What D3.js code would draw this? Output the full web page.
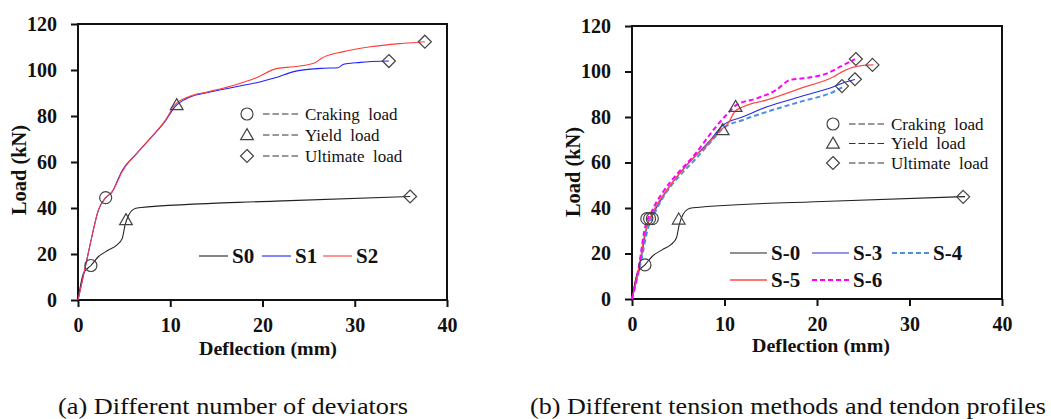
<!DOCTYPE html>
<html>
<head>
<meta charset="utf-8">
<script src="https://cdnjs.cloudflare.com/ajax/libs/d3/7.8.5/d3.min.js"></script>
<style>
  body { margin: 0; background: white; }
  svg { display: block; }
  text { font-family: "Liberation Serif", "Times New Roman", serif; fill: #111; }
</style>
</head>
<body>
<script>
/*************** Data (deflection mm, load kN) *********************/
const xTicks = [0, 10, 20, 30, 40]
const yTicks = [0, 20, 40, 60, 80, 100, 120]

// panel (a)
const s0 = [[0,0],[0.6,11.6],[1.4,15],[2.2,18.8],[3.3,21.7],[4.2,23.9],[4.8,26.8],[5.1,32.6],[5.5,37],[6.0,39.4],[6.6,40.1],[21.4,43],[36,45]]
const s1 = [[0,0],[0.8,14.5],[1.5,27.5],[2.2,39],[3,44.5],[3.7,47],[4.4,53],[4.75,56],[6.2,63],[8,71],[9.5,78],[10.5,84],[12,88],[14.2,90.3],[17,92.6],[19.8,94.9],[21.4,96.6],[23.4,99.3],[26.3,100.7],[28.2,101],[28.8,102.5],[30.6,103.3],[33.7,103.9]]
const s2 = [[0,0],[0.8,14.5],[1.5,27.5],[2.2,39],[3,44.5],[3.7,47],[4.4,52.5],[4.75,55.5],[6.2,63],[8,71],[9.5,78.3],[10.5,84.8],[12,88.4],[14.2,90.6],[17,93.5],[19.2,96.4],[21.6,100.7],[23.4,101.4],[25.7,103.2],[26.4,105.1],[28.8,108],[31.7,110.1],[35.3,111.6],[37.6,112.3]]
const crackA = [[1.4,15],[3,44.5]]
const yieldA = [[5.2,34.8],[10.7,84.8]]
const ultimateA = [[36,45],[33.7,103.9],[37.6,112.3]]

// panel (b)
const s3 = [[0,0],[0.9,16],[1.7,33.3],[2.2,37],[3.5,46],[5,54.5],[6.75,62.5],[8.5,70],[9.85,76.5],[12,80.1],[14.6,84.5],[18.2,88.9],[21.8,93.3],[23.2,95.5],[24.1,96.5]]
const s4 = [[0,0],[0.9,15],[1.8,32],[2.3,36.5],[3.5,45.6],[5,53.5],[6.75,61],[8.5,69],[9.85,75],[12,78.7],[14.6,82.3],[18.2,86.7],[21.8,91.1],[22.8,93.2]]
const s5 = [[0,0],[0.8,15],[1.4,29],[2.2,37.7],[3.5,46.4],[5,54.5],[6.75,62.5],[8.1,67.5],[9.5,74],[10.4,77.2],[11.1,82.3],[12,84.5],[14.6,87.5],[18.2,92.6],[21.8,97.7],[22.9,100.3],[25,102.7],[26.1,102.9]]
const s6 = [[0,0],[0.8,15.7],[1.35,30.3],[2.2,39.1],[3.5,47.9],[4.95,55.3],[6.75,63.3],[8.8,74.3],[10.2,80.9],[11.3,85.3],[13.5,88.2],[15.6,91.9],[17.1,96.3],[18.5,97],[21.1,99.2],[22.5,102.1],[24.1,105.4]]
const crackB = [[1.4,15],[1.6,35.3],[1.9,35.3],[2.2,35.3]]
const yieldB = [[5.05,35],[9.8,74.3],[11.2,84.5]]
const ultimateB = [[35.8,44.9],[24.2,105.5],[26.0,102.9],[24.1,96.6],[22.7,93.6]]

const markerNames = ["Craking  load", "Yield  load", "Ultimate  load"]
const captions = ["(a) Different number of deviators", "(b) Different tension methods and tendon profiles"]

/*************** Styles *********************/
const styles = {
  S0:    {color: "#222", width: 1.1, dash: null},
  S1:    {color: "#1f1fff", width: 1.1, dash: null},
  S2:    {color: "#ff3b3b", width: 1.1, dash: null},
  "S-0": {color: "#222", width: 1.1, dash: null},
  "S-3": {color: "#2a2ad8", width: 1.1, dash: null},
  "S-4": {color: "#4f8ee0", width: 2, dash: "5,3"},
  "S-5": {color: "#ff4a4a", width: 1.3, dash: null},
  "S-6": {color: "#ff00ff", width: 2, dash: "5,3"}
}

const panels = [
  {
    x0: 78, x1: 447, yTop: 24, yBottom: 300,
    series: [["S0", s0], ["S1", s1], ["S2", s2]],
    crack: crackA, yld: yieldA, ult: ultimateA,
    markerLegend: {x: 247, y: 114, dy: 21},
    seriesLegend: [["S0", 199, 256], ["S1", 262, 256], ["S2", 323, 256]],
    lineLen: 29,
    captionX: 58, captionW: 350, yTitleX: 19, yTitleY: 170, xTitleX: 268, xTitleY: 348
  },
  {
    x0: 632, x1: 1002, yTop: 26, yBottom: 299,
    series: [["S-0", s0], ["S-3", s3], ["S-4", s4], ["S-5", s5], ["S-6", s6]],
    crack: crackB, yld: yieldB, ult: ultimateB,
    markerLegend: {x: 833, y: 124, dy: 19.5},
    seriesLegend: [["S-0", 730, 253], ["S-3", 812, 253], ["S-4", 892, 253], ["S-5", 730, 280], ["S-6", 812, 280]],
    lineLen: 37,
    captionX: 530, captionW: 516, yTitleX: 573, yTitleY: 172, xTitleX: 821, xTitleY: 345
  }
]

const svg = d3.select("body").append("svg")
  .attr("width", 1051)
  .attr("height", 419)

svg.append("rect").attr("width", 1051).attr("height", 419).attr("fill", "white")

const triangle = d3.symbol().type(d3.symbolTriangle).size(70)

function drawMarker(g, kind, x, y){
  const m = g.append("g").attr("transform", `translate(${x},${y})`)
  if(kind == "circle"){
    m.append("circle").attr("r", 6)
  } else if(kind == "triangle"){
    m.append("path").attr("d", triangle()).attr("transform", "translate(0,1)")
  } else {
    m.append("path").attr("d", "M0,-6.5L6.5,0L0,6.5L-6.5,0Z")
  }
  m.selectAll("circle,path")
    .attr("fill", "none")
    .attr("stroke", "#444")
    .attr("stroke-width", 1.2)
}

panels.forEach((p, i) => {
  const x = d3.scaleLinear().domain([0, 40]).range([p.x0, p.x1])
  const y = d3.scaleLinear().domain([0, 120]).range([p.yBottom, p.yTop])
  const g = svg.append("g")

  // axes
  const xAxis = g.append("g")
    .attr("transform", `translate(0,${p.yBottom})`)
    .call(d3.axisBottom(x).tickValues(xTicks).tickSize(7).tickSizeOuter(0).tickPadding(7))
  const yAxis = g.append("g")
    .attr("transform", `translate(${p.x0},0)`)
    .call(d3.axisLeft(y).tickValues(yTicks).tickSize(7).tickSizeOuter(0).tickPadding(14))
  ;[xAxis, yAxis].forEach(a => {
    a.select(".domain").remove()
    a.selectAll("line").attr("stroke", "#111").attr("stroke-width", 2)
    a.selectAll("text")
      .style("font-family", "Liberation Serif")
      .style("font-weight", "bold")
      .style("font-size", "20px")
      .attr("fill", "#111")
  })
  xAxis.selectAll("text").attr("dy", "0.9em")

  // frame
  g.append("rect")
    .attr("x", p.x0).attr("y", p.yTop)
    .attr("width", p.x1 - p.x0).attr("height", p.yBottom - p.yTop)
    .attr("fill", "none").attr("stroke", "#111").attr("stroke-width", 2)

  // curves
  const line = d3.line()
    .x(d => x(d[0]))
    .y(d => y(d[1]))
    .curve(d3.curveMonotoneX)

  p.series.forEach(([name, data]) => {
    const st = styles[name]
    g.append("path")
      .datum(data)
      .attr("d", line)
      .attr("fill", "none")
      .attr("stroke", st.color)
      .attr("stroke-width", st.width)
      .attr("stroke-dasharray", st.dash)
  })

  // markers
  p.crack.forEach(d => drawMarker(g, "circle", x(d[0]), y(d[1])))
  p.yld.forEach(d => drawMarker(g, "triangle", x(d[0]), y(d[1])))
  p.ult.forEach(d => drawMarker(g, "diamond", x(d[0]), y(d[1])))

  // marker legend
  const ml = p.markerLegend
  ;["circle", "triangle", "diamond"].forEach((kind, k) => {
    const yy = ml.y + k*ml.dy
    drawMarker(g, kind, ml.x, yy)
    g.append("line")
      .attr("x1", ml.x + 16).attr("x2", ml.x + 51)
      .attr("y1", yy).attr("y2", yy)
      .attr("stroke", "#333").attr("stroke-width", 1.1)
      .attr("stroke-dasharray", "6.5,3")
    g.append("text")
      .attr("x", ml.x + 58).attr("y", yy)
      .attr("dy", "0.35em")
      .style("font-size", "17px")
      .style("white-space", "pre")
      .text(markerNames[k])
  })

  // series legend
  p.seriesLegend.forEach(([name, lx, ly]) => {
    const st = styles[name]
    g.append("line")
      .attr("x1", lx).attr("x2", lx + p.lineLen)
      .attr("y1", ly).attr("y2", ly)
      .attr("stroke", st.color)
      .attr("stroke-width", st.width)
      .attr("stroke-dasharray", st.dash)
    g.append("text")
      .attr("x", lx + p.lineLen + 4).attr("y", ly)
      .attr("dy", "0.35em")
      .style("font-size", "21px")
      .style("font-weight", "bold")
      .text(name)
  })

  // axis titles
  g.append("text")
    .attr("transform", `translate(${p.yTitleX},${p.yTitleY}) rotate(-90)`)
    .attr("text-anchor", "middle")
    .attr("dy", "0.35em")
    .style("font-size", "20px")
    .style("font-weight", "bold")
    .attr("textLength", 90)
    .attr("lengthAdjust", "spacingAndGlyphs")
    .text("Load (kN)")
  g.append("text")
    .attr("x", p.xTitleX).attr("y", p.xTitleY)
    .attr("text-anchor", "middle")
    .attr("dy", "0.35em")
    .style("font-size", "19px")
    .style("font-weight", "bold")
    .attr("textLength", 138)
    .attr("lengthAdjust", "spacingAndGlyphs")
    .text("Deflection (mm)")

  // caption
  g.append("text")
    .attr("x", p.captionX).attr("y", 414)
    .style("font-size", "23px")
    .attr("textLength", p.captionW)
    .attr("lengthAdjust", "spacingAndGlyphs")
    .text(captions[i])
})
</script>
</body>
</html>
